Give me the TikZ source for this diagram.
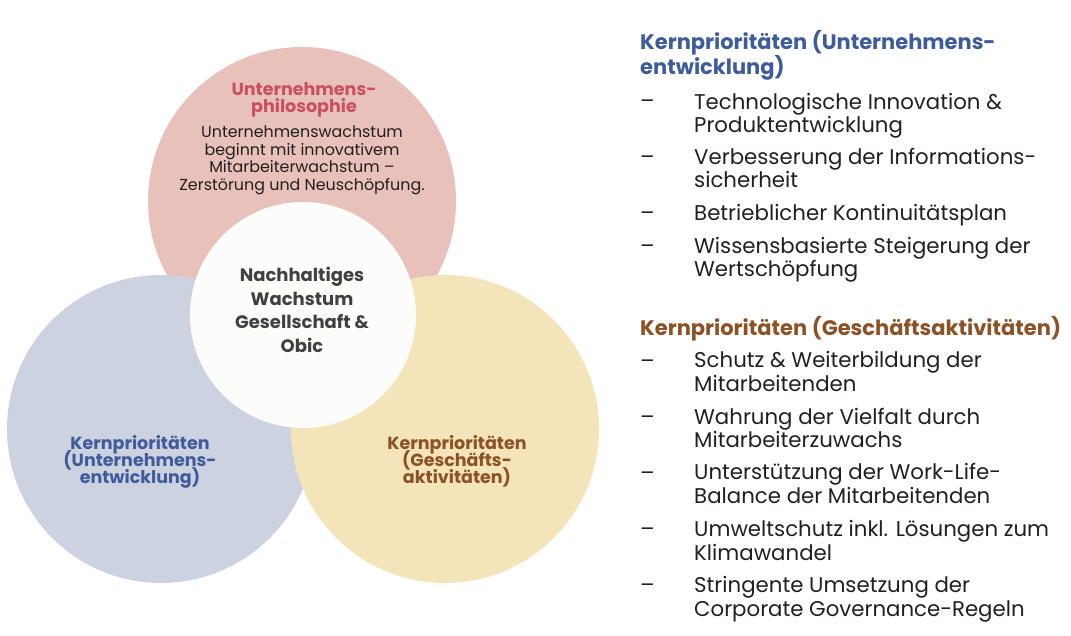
\documentclass[tikz,border=0pt]{standalone}
\usepackage{fontspec}
\setmainfont{Poppins}
\usepackage{xcolor}
\usepackage{tikz}
\usetikzlibrary{positioning}
\definecolor{pinkfill}{RGB}{232, 193, 186}
\definecolor{bluefill}{RGB}{204, 210, 224}
\definecolor{yellowfill}{RGB}{244, 228, 185}
\definecolor{hubwhite}{RGB}{252, 252, 250}
\definecolor{pinktext}{RGB}{201, 80, 94}
\definecolor{bluetext}{RGB}{63, 92, 154}
\definecolor{browntext}{RGB}{139, 82, 38}
\definecolor{hubtext}{RGB}{64, 64, 64}
\definecolor{bodytext}{RGB}{35, 31, 32}
\newcommand{\tightlines}{\lineskiplimit-100pt\relax}
\tikzset{
    bubble/.style={
        circle, minimum size=308pt, inner sep=0pt
    },
    hubnode/.style={
        circle, fill=hubwhite, minimum size=226pt, inner sep=0pt
    },
    circletitle/.style={
        font=\bfseries\fontsize{17.5}{17}\selectfont\tightlines, align=center, anchor=base, inner sep=0pt
    },
    circlebody/.style={
        font=\fontsize{15.9}{17.7}\selectfont\tightlines, align=center, anchor=base, inner sep=0pt, text=bodytext
    },
    listhead/.style={
        font=\bfseries\fontsize{21}{22.7}\selectfont, align=left, anchor=base west, inner sep=0pt
    },
    listitem/.style={
        font=\fontsize{21.3}{23.4}\selectfont, align=left, anchor=base west, inner sep=0pt, text=bodytext
    },
    dashmark/.style={
        font=\fontsize{21.3}{23.4}\selectfont, anchor=base west, inner sep=0pt, text=bodytext
    }
}
\begin{document}
\begin{tikzpicture}[x=1pt, y=-1pt]
    \useasboundingbox (0,0) rectangle (1071,636);

    % ======================================
    % DREI KREISE UND MITTE
    % ======================================
    \node[bubble, fill=pinkfill] (philo) at (302,201) {};
    \node[bubble, fill=bluefill] (dev) at (161,429) {};
    \node[bubble, fill=yellowfill] (biz) at (445,429) {};
    \node[hubnode] (hub) at (303,315) {};

    % Texte in den Kreisen (Anker = Grundlinie der letzten Zeile)
    \node[circletitle, text=pinktext] (philotitle) at (304,112.7) {Unternehmens-\\philosophie};
    \node[circlebody] (philobody) at (302,190.7) {Unternehmenswachstum\\beginnt mit innovativem\\Mitarbeiterwachstum --\\Zerstörung und Neuschöpfung.};
    \node[circletitle, text=hubtext, font=\bfseries\fontsize{18}{23.5}\selectfont] (hubtitle) at (302,352.3) {Nachhaltiges\\Wachstum\\Gesellschaft \&\\Obic};
    \node[circletitle, text=bluetext] (devtitle) at (140,483.3) {Kernprioritäten\\(Unternehmens-\\entwicklung)};
    \node[circletitle, text=browntext] (biztitle) at (457,483.3) {Kernprioritäten\\(Geschäfts-\\aktivitäten)};

    % ======================================
    % LISTE RECHTS (UNTERNEHMENSENTWICKLUNG)
    % ======================================
    \node[listhead, text=bluetext] (devhead) at (640,75) {Kernprioritäten (Unternehmens-\\entwicklung)};
    \node[listitem] (dev1) at (694,132.7) {Technologische Innovation \&\\Produktentwicklung};
    \node[listitem] (dev2) at (694,187.7) {Verbesserung der Informations-\\sicherheit};
    \node[listitem] (dev3) at (694,221) {Betrieblicher Kontinuitätsplan};
    \node[listitem] (dev4) at (694,276.7) {Wissensbasierte Steigerung der\\Wertschöpfung};
    \node[dashmark] (devdash1) at (640,108.3) {--};
    \node[dashmark] (devdash2) at (640,164.3) {--};
    \node[dashmark] (devdash3) at (640,221) {--};
    \node[dashmark] (devdash4) at (640,253.3) {--};

    % ======================================
    % LISTE RECHTS (GESCHÄFTSAKTIVITÄTEN)
    % ======================================
    \node[listhead, text=browntext] (bizhead) at (640,335) {Kernprioritäten (Geschäftsaktivitäten)};
    \node[listitem] (biz1) at (694,391) {Schutz \& Weiterbildung der\\Mitarbeitenden};
    \node[listitem] (biz2) at (694,447.7) {Wahrung der Vielfalt durch\\Mitarbeiterzuwachs};
    \node[listitem] (biz3) at (694,503.3) {Unterstützung der Work-Life-\\Balance der Mitarbeitenden};
    \node[listitem] (biz4) at (694,560) {Umweltschutz inkl. Lösungen zum\\Klimawandel};
    \node[listitem] (biz5) at (694,616) {Stringente Umsetzung der\\Corporate Governance-Regeln};
    \node[dashmark] (bizdash1) at (640,368.3) {--};
    \node[dashmark] (bizdash2) at (640,424.3) {--};
    \node[dashmark] (bizdash3) at (640,480) {--};
    \node[dashmark] (bizdash4) at (640,536.7) {--};
    \node[dashmark] (bizdash5) at (640,592.7) {--};

\end{tikzpicture}
\end{document}
